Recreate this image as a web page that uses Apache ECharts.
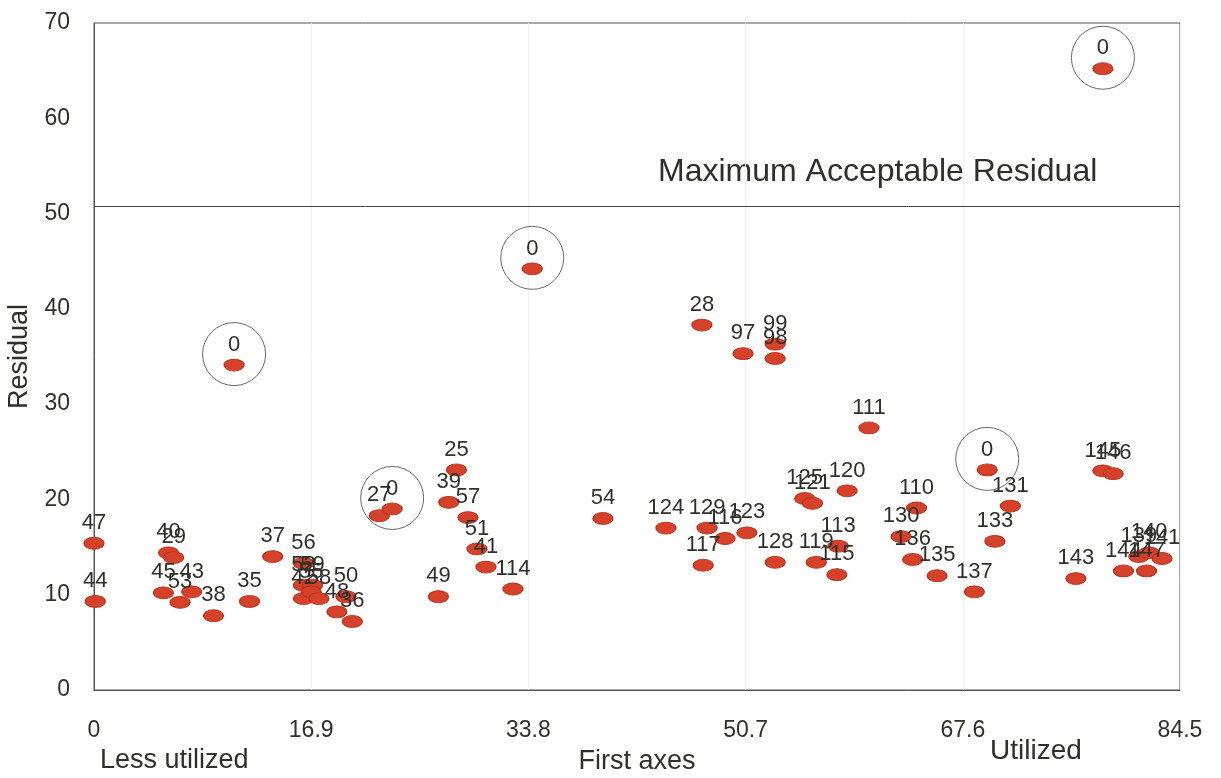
<!DOCTYPE html>
<html>
<head>
<meta charset="utf-8">
<script src="https://cdn.jsdelivr.net/npm/echarts@6/dist/echarts.min.js"></script>
<style>
html,body{margin:0;padding:0;background:#fff;}
#chart{width:1221px;height:778px;}
</style>
</head>
<body>
<div id="chart"></div>
<script>
// ---- data ----
const pointLabels = ['47','44','40','29','45','53','43','38','35','37',
  '56','52','59','42','55','58','48','50','36','27',
  '49','25','39','57','51','41','114','54','124','129',
  '116','123','117','28','97','99','98','128','125','121',
  '119','113','115','120','111','130','110','136','135','137',
  '133','131','143','145','146','144','139','140','147','141'];
const pointX = [0.0,0.1,5.8,6.2,5.4,6.7,7.6,9.3,12.1,13.9,
  16.3,16.3,17.0,16.3,16.9,17.5,18.9,19.6,20.1,22.2,
  26.8,28.2,27.6,29.1,29.8,30.5,32.6,39.6,44.5,47.7,
  49.1,50.8,47.4,47.3,50.5,53.0,53.0,53.0,55.3,55.9,
  56.2,57.9,57.8,58.6,60.3,62.8,64.0,63.7,65.6,68.5,
  70.1,71.3,76.4,78.5,79.3,80.1,81.3,82.1,81.9,83.1];
const pointY = [15.4,9.3,14.4,13.9,10.2,9.2,10.3,7.8,9.3,14.0,
  13.3,11.0,11.0,9.6,10.3,9.6,8.2,9.8,7.2,18.3,
  9.8,23.1,19.7,18.1,14.8,12.9,10.6,18.0,17.0,17.0,
  15.9,16.5,13.1,38.3,35.3,36.3,34.8,13.4,20.1,19.6,
  13.4,15.1,12.1,20.9,27.5,16.1,19.1,13.7,12.0,10.3,
  15.6,19.3,11.7,23.0,22.7,12.5,14.0,14.4,12.5,13.8];
// circled outliers (labelled "0")
const outlierLabels = ['0','0','0','0','0'];
const outlierX = [10.9,23.2,34.1,69.5,78.5];
const outlierY = [34.1,19.0,44.2,23.1,65.2];
const maxResidual = 50.8;
const xTicks = [0,16.9,33.8,50.7,67.6,84.5];
const yTicks = [0,10,20,30,40,50,60,70];

const FONT = '"Liberation Sans", Arial, sans-serif';
const TXT = '#30302a';

const mainData = pointX.map((x,i)=>({value:[x,pointY[i]], name:pointLabels[i]}));
const outData = outlierX.map((x,i)=>({value:[x,outlierY[i]], name:outlierLabels[i]}));

const chart = echarts.init(document.getElementById('chart'), null, {renderer:'canvas'});
const markerStyle = {color:'#d6412a', borderColor:'#b5311d', borderWidth:1, opacity:1};
const labelStyle = {show:true, position:'top', distance:3, formatter:p=>p.name,
  fontFamily:FONT, fontSize:22, color:TXT};

chart.setOption({
  animation:false,
  backgroundColor:'#ffffff',
  grid:{left:94, right:41, top:23, bottom:88, show:true, borderColor:'#555', borderWidth:1,
    containLabel:false, outerBoundsMode:'none'},
  xAxis:{type:'value', min:xTicks[0], max:xTicks[xTicks.length-1], interval:16.9,
    name:'First axes', nameLocation:'middle', nameGap:58,
    nameTextStyle:{fontFamily:FONT, fontSize:27, color:TXT},
    axisLine:{show:true, lineStyle:{color:'#555', width:1}},
    axisTick:{show:false},
    splitLine:{show:true, lineStyle:{color:'#f1f1f1'}},
    axisLabel:{margin:29, fontFamily:FONT, fontSize:23, color:TXT,
      formatter:v=>v===0?'0':(Math.round(v*10)/10).toFixed(1)}},
  yAxis:{type:'value', min:yTicks[0], max:yTicks[yTicks.length-1], interval:10,
    name:'Residual', nameLocation:'middle', nameGap:60,
    nameTextStyle:{fontFamily:FONT, fontSize:27, color:TXT},
    axisLine:{show:true, lineStyle:{color:'#555', width:1}},
    axisTick:{show:false},
    splitLine:{show:false},
    axisLabel:{margin:24, fontFamily:FONT, fontSize:23, color:TXT}},
  series:[
    {type:'scatter', data:mainData, symbol:'circle', symbolSize:[20,12],
      itemStyle:markerStyle, label:labelStyle, z:3,
      markLine:{silent:true, symbol:'none', label:{show:false},
        lineStyle:{color:'#444', width:1, type:'solid'},
        data:[{yAxis:maxResidual}]}},
    {type:'scatter', data:outData, symbol:'circle', symbolSize:[20,12],
      itemStyle:markerStyle, label:labelStyle, z:3},
    {type:'scatter', data:outData, symbol:'circle', symbolSize:63, symbolOffset:[0,-11],
      itemStyle:{color:'rgba(0,0,0,0)', borderColor:'#444', borderWidth:1}, z:2, silent:true}
  ],
  graphic:[
    {type:'text', left:658, top:156, style:{text:'Maximum Acceptable Residual', font:'32px '+FONT, fill:TXT}},
    {type:'text', left:100, top:747, style:{text:'Less utilized', font:'27px '+FONT, fill:TXT}},
    {type:'text', left:990, top:737, style:{text:'Utilized', font:'28px '+FONT, fill:TXT}}
  ]
});
</script>
</body>
</html>
